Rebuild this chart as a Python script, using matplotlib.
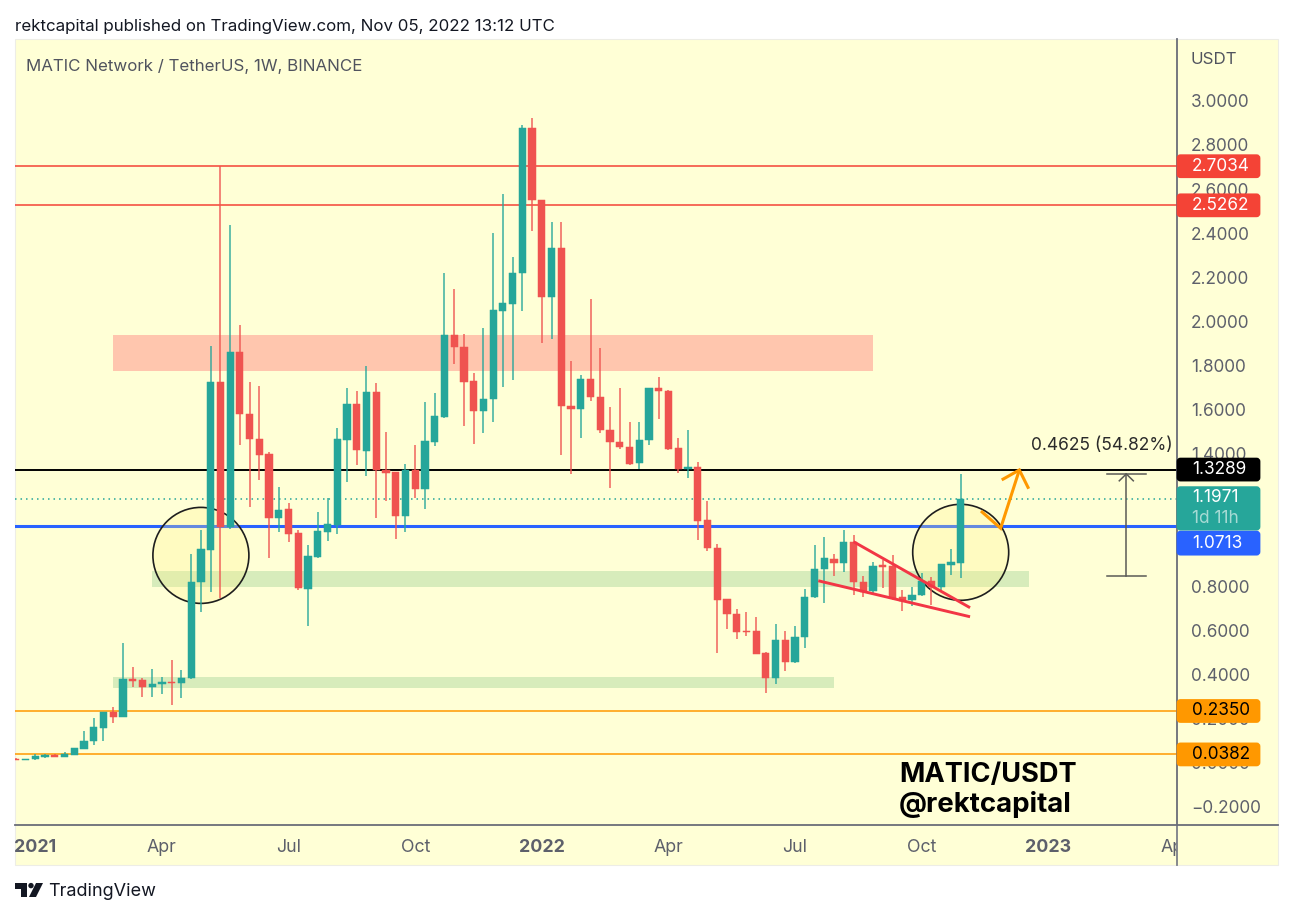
import matplotlib
matplotlib.use("Agg")
import matplotlib.pyplot as plt
import numpy as np
from matplotlib.patches import Rectangle, Ellipse, FancyBboxPatch, Polygon, Circle
from matplotlib.lines import Line2D
from matplotlib.transforms import Affine2D, Bbox

plt.rcParams['font.family'] = ['Inter', 'DejaVu Sans']

# weekly candles, one row per week: open, high, low, close
opens = [.017,.013,.016,.027,.037,.028,.036,.064,.098,.159,.230,.209,.380,.375,.342,.357,.368,.360,.383,.820,
 .966,1.726,1.067,1.863,1.581,1.466,1.398,1.111,1.149,1.043,.789,.934,1.047,1.0765,1.464,1.625,1.414,1.680,1.327,1.317,
 1.120,1.327,1.241,1.454,1.568,1.939,1.886,1.729,1.594,1.647,2.047,2.081,2.218,2.877,2.552,2.109,2.331,1.617,1.602,1.738,
 1.659,1.508,1.452,1.433,1.359,1.464,1.697,1.686,1.427,1.330,1.342,1.099,.975,.742,.676,.599,.597,.496,.383,.558,
 .456,.570,.750,.878,.925,.904,1.002,.820,.777,.895,.892,.750,.738,.759,.824,.797,.898,.907]
highs = [.022,.017,.039,.040,.040,.049,.067,.144,.202,.232,.252,.542,.436,.383,.424,.388,.466,.421,.946,1.055,
 1.889,2.7034,2.437,1.984,1.727,1.709,1.410,1.250,1.176,1.055,.986,1.135,1.201,1.516,1.700,1.686,1.798,1.720,1.498,1.319,
 1.356,1.440,1.634,1.676,2.221,2.148,1.943,1.768,1.969,2.399,2.578,2.293,2.890,2.921,2.552,2.449,2.452,1.819,1.757,2.102,
 1.878,1.614,1.700,1.546,1.543,1.697,1.750,1.689,1.472,1.507,1.362,1.188,.992,.742,.698,.684,.662,.504,.629,.598,
 .620,.786,.985,1.022,.946,1.054,1.034,.847,.912,.919,.942,.783,.795,.859,.844,.900,.969,1.307]
lows = [.013,.011,.015,.022,.027,.027,.036,.061,.081,.100,.182,.2065,.342,.297,.300,.311,.262,.295,.380,.685,
 .773,.746,1.060,1.440,1.161,1.282,.930,1.046,1.002,.783,.6215,.930,1.005,1.037,1.271,1.350,1.300,1.111,1.188,1.016,
 1.045,1.201,1.152,1.436,1.5625,1.807,1.528,1.445,1.493,1.546,1.702,1.736,2.047,2.408,1.901,1.919,1.395,1.308,1.473,1.641,
 1.493,1.244,1.421,1.351,1.330,1.442,1.559,1.418,1.313,1.292,1.010,.960,.499,.608,.561,.576,.493,.315,.359,.418,
 .451,.519,.745,.723,.848,.865,.759,.752,.762,.792,.738,.689,.712,.756,.715,.776,.851,.836]
closes = [.013,.017,.030,.034,.028,.039,.066,.099,.161,.230,.209,.379,.372,.345,.357,.368,.362,.383,.8195,.9676,
 1.7257,1.070,1.863,1.581,1.466,1.395,1.111,1.146,1.038,.791,.9386,1.0505,1.081,1.466,1.625,1.416,1.680,1.327,1.315,1.120,
 1.327,1.241,1.457,1.572,1.939,1.884,1.727,1.596,1.650,2.051,2.084,2.221,2.877,2.549,2.111,2.331,1.616,1.602,1.738,1.658,
 1.508,1.452,1.431,1.356,1.463,1.697,1.684,1.422,1.330,1.342,1.096,.972,.739,.673,.594,.593,.493,.383,.558,.458,
 .572,.752,.880,.928,.904,1.001,.820,.774,.892,.887,.746,.732,.761,.824,.797,.900,.909,1.1971]

tick_weeks = [2, 15, 28, 41, 54, 67, 80, 93, 106, 119]
tick_names = ['2021', 'Apr', 'Jul', 'Oct', '2022', 'Apr', 'Jul', 'Oct', '2023', 'Apr']
year_names = {'2021', '2022', '2023'}
price_ticks = [-0.2, 0.0, 0.2, 0.4, 0.6, 0.8, 1.0, 1.2, 1.4, 1.6, 1.8, 2.0, 2.2, 2.4, 2.6, 2.8, 3.0]

levels = [2.7034, 2.5262, 1.3289, 0.2350, 0.0382]
level_cols = ['#F44336', '#F44336', '#000000', '#FF9800', '#FF9800']
level_txt = ['white', 'white', 'white', 'black', 'black']
level_lw = [1.1, 1.1, 1.4, 1.1, 1.1]
blue_level = 1.0713
last_price = 1.1971

zones = [(10, 88, 1.7755, 1.9386, '#FFC6AE'), (14, 104, 0.7968, 0.8693, '#D7ECBB'), (10, 84, 0.3392, 0.3890, '#D7ECBB')]
circles = [(19.0, 0.940), (97.0, 0.954)]
wedge_up = ([86, 97.96], [1.002, 0.703])
wedge_dn = ([82.38, 97.96], [0.825, 0.662])
arrow_x = [99.08, 101.1, 103.02]
arrow_y = [1.141, 1.063, 1.327]
head_x = [101.21, 103.02, 103.98]
head_y = [1.282, 1.327, 1.242]
measure_lo, measure_hi = 0.8465, 1.3090

GREEN, RED = '#26A69A', '#EF5350'
W, H = 1292, 916
fig = plt.figure(figsize=(W/100, H/100), dpi=100, facecolor='white')
px = Affine2D().scale(1, -1).translate(0, H)   # screen pixels, top-left origin

ax = fig.add_axes([15/W, (H-825)/H, (1177-15)/W, (825-39)/H])
ax.patch.set_visible(False)
ax.set_xlim(-0.084, 119.205)
ax.set_ylim(-0.2816, 3.2798)
for s in ('left', 'top'):
    ax.spines[s].set_visible(False)
for s in ('right', 'bottom'):
    ax.spines[s].set_color('#6A6D78')
    ax.spines[s].set_linewidth(1.3)

fig.add_artist(Rectangle((15, 39), 1263, 826, transform=px, fc='#FFFFD6', ec='#EDEDE6', lw=0.8, zorder=-1))
fig.add_artist(Line2D([1177, 1177], [825, 865], transform=px, color='#7C7F88', lw=1.3, zorder=5))
fig.add_artist(Line2D([1177, 1278], [825, 825], transform=px, color='#6A6D78', lw=1.3, zorder=5))

# axis ticks
ax.yaxis.tick_right()
ax.set_yticks(price_ticks)
ax.set_yticklabels(['\u2212%.4f' % abs(v) if v < 0 else '%.4f' % v for v in price_ticks],
                   fontsize=12.4, color='#5D606B')
ax.set_xticks(tick_weeks)
ax.set_xticklabels(tick_names, fontsize=12.8, color='#5D606B')
ax.tick_params(axis='both', length=0)
ax.tick_params(axis='y', pad=10)
ax.tick_params(axis='x', pad=10)
clip = Bbox([[15, 0], [1177, H]])
for lab in ax.get_xticklabels():
    lab.set_clip_on(True)
    lab.set_clip_box(clip)
    if lab.get_text() in year_names:
        lab.set_fontweight('bold')

# zones and levels
for x0, x1, y0, y1, c in zones:
    ax.add_patch(Rectangle((x0, y0), x1-x0, y1-y0, fc=c, ec='none', zorder=1))
for lv, c, lw in zip(levels, level_cols, level_lw):
    ax.axhline(lv, color=c, lw=lw, zorder=1.2)
ax.axhline(blue_level, color='#2962FF', lw=2.2, zorder=1.2)
ax.axhline(last_price, color=GREEN, lw=1.1, ls=(0, (1, 2.6)), zorder=1.2)
for cx, cy in circles:
    ax.add_patch(Ellipse((cx, cy), 9.855, 0.435, fc=(1.0, 0.945, 0.55, 0.28), ec='#1E1E1E', lw=1.2, zorder=1.6))

# candles
idx = np.arange(len(opens))
o, h, l, c = map(np.array, (opens, highs, lows, closes))
cols = [GREEN if cc >= oo else RED for oo, cc in zip(o, c)]
ax.vlines(idx, l, h, colors=cols, lw=1.1, zorder=2, alpha=0.9)
ax.bar(idx, c-o, bottom=o, width=0.74, color=cols, edgecolor=cols, linewidth=0.35, zorder=2.2)

# drawings
ax.plot(*wedge_up, color='#F23645', lw=2.1, solid_capstyle='butt', zorder=3)
ax.plot(*wedge_dn, color='#F23645', lw=2.1, solid_capstyle='butt', zorder=3)
ax.plot(arrow_x, arrow_y, color='#FF9800', lw=2.2, solid_joinstyle='miter', solid_capstyle='butt', zorder=3)
ax.plot(head_x, head_y, color='#FF9800', lw=2.2, solid_joinstyle='miter', solid_capstyle='butt', zorder=3)

# measuring tool
M = '#5A5A55'
ax.plot([114, 114], [measure_lo, measure_hi], color=M, lw=1.1, zorder=3)
ax.plot([112, 116], [measure_lo, measure_lo], color=M, lw=1.1, zorder=3)
ax.plot([112, 116], [measure_hi, measure_hi], color=M, lw=1.1, zorder=3)
ax.plot([113.28, 114, 114.72], [measure_hi-0.031, measure_hi, measure_hi-0.031], color=M, lw=1.1, zorder=3)
ax.text(1031, 445, '0.4625 (54.82%)', transform=px, fontsize=12.5, color='#2A2A2A', va='center', ha='left', zorder=4)

# price badges
def ypx(v):
    return H - ax.transData.transform((0, v))[1]

def badge(y0, y1, col):
    ax.add_patch(FancyBboxPatch((1178, y0+1.5), 81, y1-y0-3, boxstyle='round,pad=0,rounding_size=2.5',
                                transform=px, fc=col, ec=col, lw=2, clip_on=False, zorder=8))

for lv, col, tc in zip(levels, level_cols, level_txt):
    y = ypx(lv)
    badge(y-12, y+12, col)
    ax.text(1192, y, '%.4f' % lv, transform=px, fontsize=12.4, color=tc, va='center', ha='left', clip_on=False, zorder=9)
yl = ypx(last_price)
badge(yl-12.5, yl+32, GREEN)
ax.text(1192, yl-1, '%.4f' % last_price, transform=px, fontsize=12.4, color='white', va='center', ha='left', zorder=9)
ax.text(1192, yl+20, '1d 11h', transform=px, fontsize=12.4, color='#A6DAD4', va='center', ha='left', zorder=9)
# the blue label sits just below the last-price label, not on its own line
badge(yl+32, yl+57, '#2962FF')
ax.text(1192, yl+44.5, '%.4f' % blue_level, transform=px, fontsize=12.4, color='white', va='center', ha='left', zorder=9)

# texts
fig.text(15, 26, 'rektcapital published on TradingView.com, Nov 05, 2022 13:12 UTC', transform=px,
         fontsize=12.2, color='#131722', va='center', ha='left')
fig.text(26, 66.5, 'MATIC Network / TetherUS, 1W, BINANCE', transform=px, fontsize=12.2, color='#50535E', va='center', ha='left')
fig.text(1191, 60, 'USDT', transform=px, fontsize=12.2, color='#50535E', va='center', ha='left')
fig.text(899, 775, 'MATIC/USDT', transform=px, fontsize=19.6, fontweight='bold', color='black', va='center', ha='left')
fig.text(899, 804, '@rektcapital', transform=px, fontsize=19.9, fontweight='bold', color='black', va='center', ha='left')
fig.text(48, 892, 'TradingView', transform=px, fontsize=13, color='#131722', va='center', ha='left')

# logo
LC = '#131722'
fig.add_artist(Polygon([(14.5, 883), (27, 883), (27, 897), (21, 897), (21, 888.5), (14.5, 888.5)], closed=True, transform=px, fc=LC, ec='none'))
fig.add_artist(Circle((31, 885.6), 2.7, transform=px, fc=LC, ec='none'))
fig.add_artist(Polygon([(36, 883), (43, 883), (36, 897), (29, 897)], closed=True, transform=px, fc=LC, ec='none'))

fig.savefig('out.png', dpi=100, facecolor='white')
